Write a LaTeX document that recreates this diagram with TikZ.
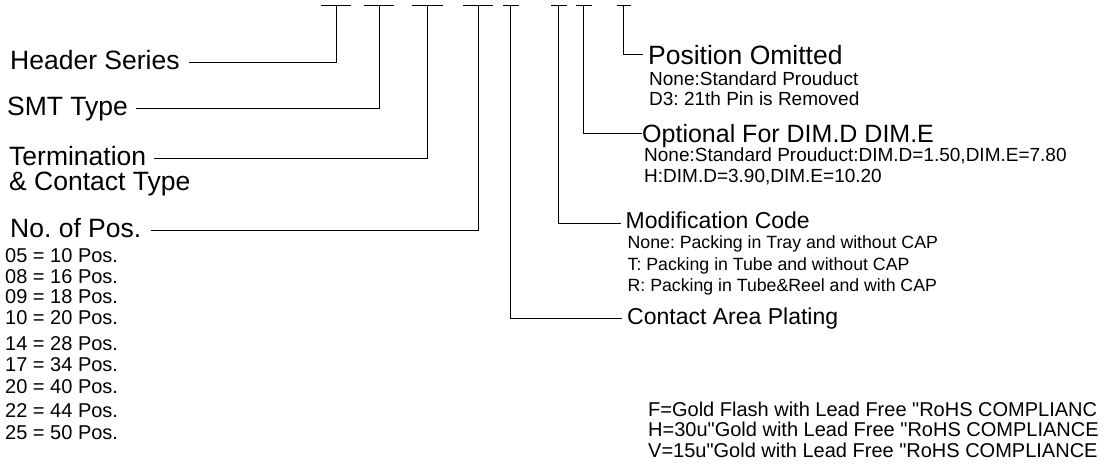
\documentclass[tikz,border=0pt]{standalone}
\usepackage{fontspec}
\setmainfont{Liberation Sans}[Ligatures=TeXOff]
\usetikzlibrary{positioning}
\frenchspacing
\newcommand{\ttlfont}{\fontsize{26.5}{30}\selectfont}
\newcommand{\dimfont}{\fontsize{25}{28}\selectfont}
\newcommand{\modfont}{\fontsize{23}{26}\selectfont}
\newcommand{\subfont}{\fontsize{19}{22}\selectfont}
\newcommand{\packfont}{\fontsize{17.7}{21}\selectfont}
\newcommand{\posfont}{\fontsize{20}{22}\selectfont}
\newcommand{\platefont}{\fontsize{20}{23}\selectfont}
\tikzset{
  lttl/.style={anchor=west, inner sep=0pt, font=\ttlfont, text height=19pt, text depth=6.5pt},
  posttl/.style={anchor=west, inner sep=0pt, font=\ttlfont, text height=19pt, text depth=0pt},
  dimttl/.style={anchor=west, inner sep=0pt, font=\dimfont, text height=18pt, text depth=0pt},
  mttl/.style={anchor=west, inner sep=0pt, font=\modfont, text height=16.5pt, text depth=5.5pt},
  sub/.style={anchor=base west, inner sep=0pt, font=\subfont},
  pack/.style={anchor=base west, inner sep=0pt, font=\packfont},
  poslist/.style={anchor=base west, inner sep=0pt, font=\posfont},
  plate/.style={anchor=base west, inner sep=0pt, font=\platefont},
  lead/.style={line width=1pt},
  tbar/.style={line width=1pt}
}
\begin{document}
\begin{tikzpicture}[x=1pt, y=-1pt]
    \useasboundingbox (0,0) rectangle (1104,473);
    % tops of the code fields
    \coordinate (t1) at (336,6);
    \coordinate (t2) at (379,6);
    \coordinate (t3) at (427,6);
    \coordinate (t4) at (478,6);
    \coordinate (t5) at (510.5,6);
    \coordinate (t6) at (558.5,6);
    \coordinate (t7) at (583.5,6);
    \coordinate (t8) at (623.5,6);
    \foreach \n/\w in {1/15, 2/15, 3/15.5, 4/15, 5/8, 6/8, 7/8, 8/7}
        \draw[tbar] ([xshift=-\w]t\n) -- ([xshift=\w]t\n);

    % left side
    \node[lttl] (hdr) at (10,63) {Header Series};
    \node[lttl] (smt) at (7,109) {SMT Type};
    \node[lttl] (term) at (9,159) {Termination};
    \node[lttl, anchor=base west] (term2) at ([yshift=-25]term.base west) {\& Contact Type};
    \node[lttl] (npos) at (10,231) {No. of Pos.};
    \draw[lead, shorten <=9pt] (hdr) -| (t1);
    \draw[lead, shorten <=8pt] (smt) -| (t2);
    \draw[lead, shorten <=8pt] (term) -| (t3);
    \draw[lead, shorten <=10pt] (npos) -| (t4);

    \node[poslist] (n05) at (5,263) {05 = 10 Pos.};
    \node[poslist] (n08) at ([yshift=-21]n05.base west) {08 = 16 Pos.};
    \node[poslist] (n09) at ([yshift=-20]n08.base west) {09 = 18 Pos.};
    \node[poslist] (n10) at ([yshift=-21]n09.base west) {10 = 20 Pos.};
    \node[poslist] (n14) at ([yshift=-25]n10.base west) {14 = 28 Pos.};
    \node[poslist] (n17) at ([yshift=-21]n14.base west) {17 = 34 Pos.};
    \node[poslist] (n20) at ([yshift=-22]n17.base west) {20 = 40 Pos.};
    \node[poslist] (n22) at ([yshift=-24]n20.base west) {22 = 44 Pos.};
    \node[poslist] (n25) at ([yshift=-22]n22.base west) {25 = 50 Pos.};

    % right side
    \node[posttl] (pomit) at (648,55) {Position Omitted};
    \node[sub] (pomita) at ([shift={(1,21.5)}]pomit.base west) {None:Standard Prouduct};
    \node[sub] (pomitb) at ([yshift=-20]pomita.base west) {D3: 21th Pin is Removed};
    \draw[lead, shorten >=5pt] (t8) |- (pomit);

    \node[dimttl] (dim) at (642,134) {Optional For DIM.D DIM.E};
    \node[sub] (dima) at ([shift={(2,19)}]dim.base west) {None:Standard Prouduct:DIM.D=1.50,DIM.E=7.80};
    \node[sub] (dimb) at ([yshift=-21]dima.base west) {H:DIM.D=3.90,DIM.E=10.20};
    \draw[lead, shorten >=0.5pt] (t7) |- (dim);

    \node[mttl] (mod) at (625.5,223.5) {Modification Code};
    \node[pack] (moda) at ([shift={(2,20)}]mod.base west) {None: Packing in Tray and without CAP};
    \node[pack] (modb) at ([yshift=-22]moda.base west) {T: Packing in Tube and without CAP};
    \node[pack] (modc) at ([yshift=-21]modb.base west) {R: Packing in Tube\&Reel and with CAP};
    \draw[lead, shorten >=5pt] (t6) |- (mod);

    \node[mttl] (cap) at (627,319) {Contact Area Plating};
    \draw[lead, shorten >=5pt] (t5) |- (cap);

    \node[plate] (pf) at (648,416) {F=Gold Flash with Lead Free "RoHS COMPLIANC};
    \node[plate] (ph) at ([yshift=-20.5]pf.base west) {H=30u"Gold with Lead Free "RoHS COMPLIANCE};
    \node[plate] (pv) at ([yshift=-20.5]ph.base west) {V=15u"Gold with Lead Free "RoHS COMPLIANCE};
\end{tikzpicture}
\end{document}
